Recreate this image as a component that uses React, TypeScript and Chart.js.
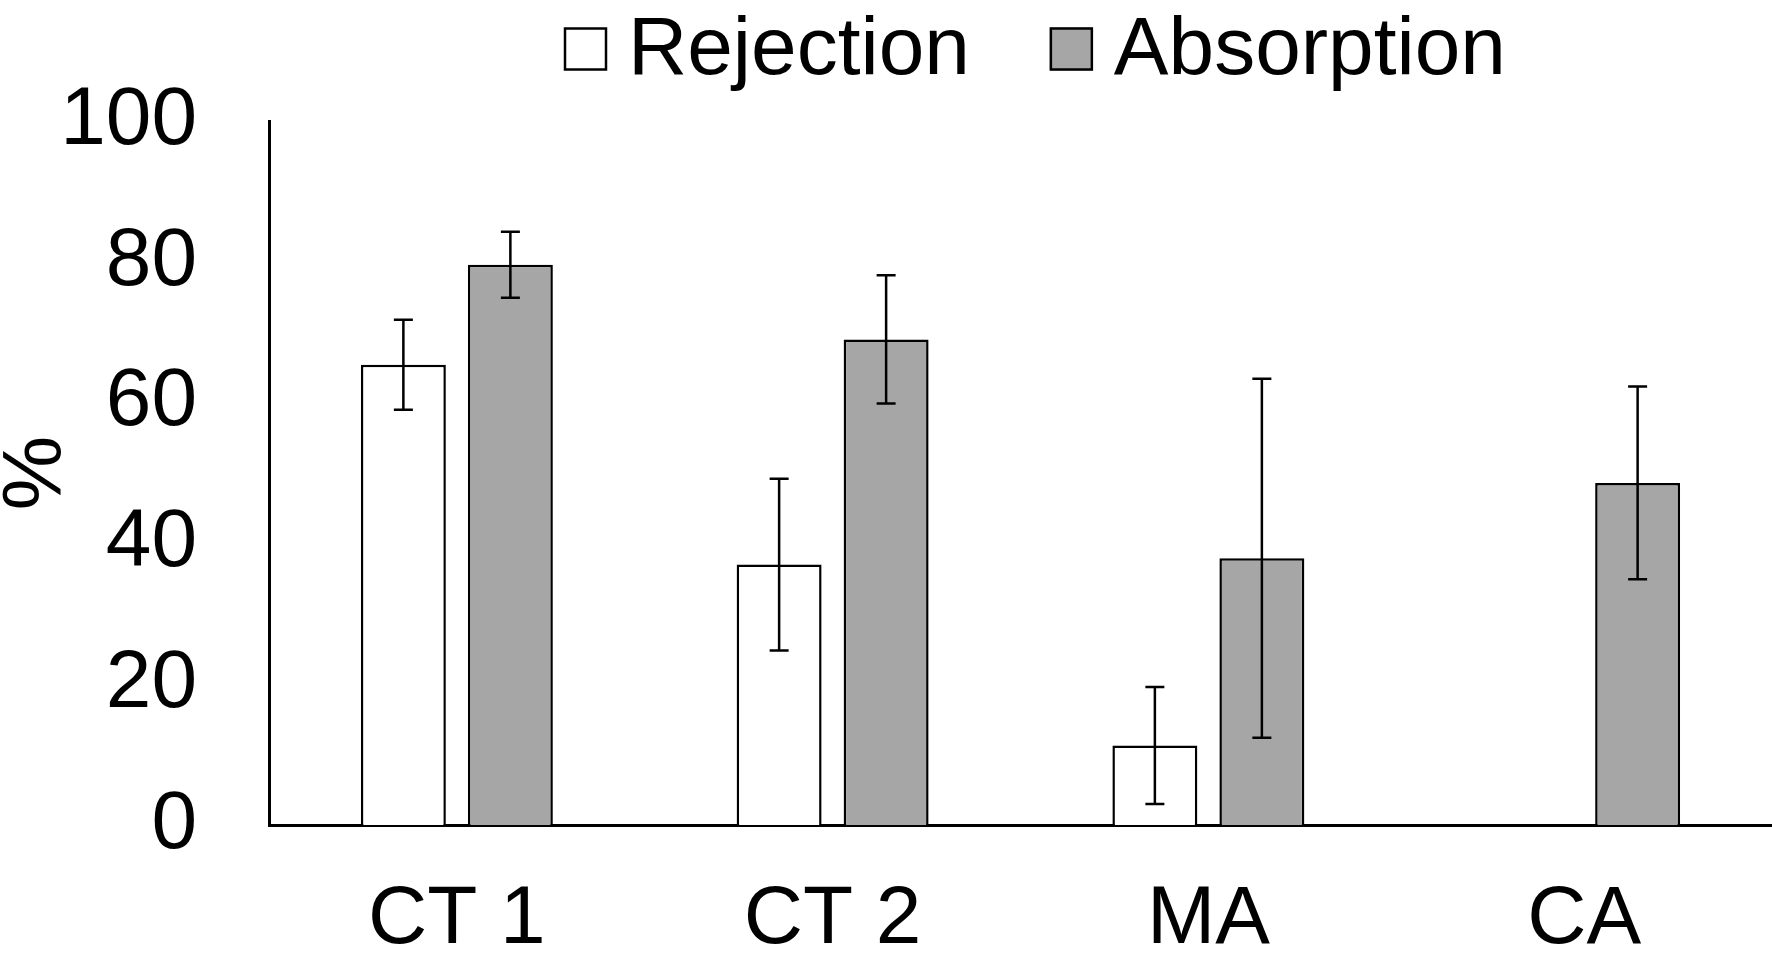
import React, { useEffect, useRef } from 'react';
import { Chart, registerables } from 'chart.js';

Chart.register(...registerables);

const categories = ['CT 1', 'CT 2', 'MA', 'CA'];
const seriesNames = ['Rejection', 'Absorption'];
const rejection: (number | null)[] = [65.4, 37.0, 11.3, null];
const rejectionErr: (number | null)[] = [6.4, 12.2, 8.3, null];
const absorption: (number | null)[] = [79.6, 69.0, 37.9, 48.6];
const absorptionErr: (number | null)[] = [4.7, 9.1, 25.5, 13.7];
const yTicks = [0, 20, 40, 60, 80, 100];
const yTitle = '%';

const FONT = "'Liberation Sans', Arial, sans-serif";
const FS = 82;

const errorBarPlugin = {
  id: 'errorBars',
  afterDatasetsDraw(chart: any) {
    const ctx = chart.ctx;
    const y = chart.scales.y;
    chart.data.datasets.forEach((ds: any, di: number) => {
      const meta = chart.getDatasetMeta(di);
      meta.data.forEach((bar: any, i: number) => {
        const v = ds.data[i];
        const e = ds.errors ? ds.errors[i] : null;
        if (v == null || e == null) return;
        const top = y.getPixelForValue(v + e);
        const bot = y.getPixelForValue(v - e);
        const x = bar.x;
        ctx.save();
        ctx.strokeStyle = '#000';
        ctx.lineWidth = 2.5;
        ctx.beginPath();
        ctx.moveTo(x, top);
        ctx.lineTo(x, bot);
        ctx.moveTo(x - 9.5, top);
        ctx.lineTo(x + 9.5, top);
        ctx.moveTo(x - 9.5, bot);
        ctx.lineTo(x + 9.5, bot);
        ctx.stroke();
        ctx.restore();
      });
    });
  },
};

const legendPlugin = {
  id: 'customLegend',
  afterDraw(chart: any) {
    const ctx = chart.ctx;
    const box = 43;
    const cy = 49;
    let x = 564;
    ctx.save();
    ctx.font = `${FS}px ${FONT}`;
    ctx.textBaseline = 'middle';
    ctx.textAlign = 'left';
    chart.data.datasets.forEach((ds: any) => {
      ctx.fillStyle = ds.backgroundColor;
      ctx.fillRect(x, cy - box / 2, box, box);
      ctx.strokeStyle = '#000';
      ctx.lineWidth = 2.5;
      ctx.strokeRect(x + 1, cy - box / 2 + 1, box - 2, box - 2);
      x += box + 21;
      ctx.fillStyle = '#000';
      ctx.fillText(ds.label, x, cy + 2);
      x += ctx.measureText(ds.label).width + 80;
    });
    ctx.restore();
  },
};

export default function App() {
  const ref = useRef<HTMLCanvasElement | null>(null);

  useEffect(() => {
    document.body.style.margin = '0';
    if (!ref.current) return;
    Chart.defaults.font.family = FONT;
    const chart = new Chart(ref.current, {
      type: 'bar',
      data: {
        labels: categories,
        datasets: [
          {
            label: seriesNames[0],
            data: rejection,
            errors: rejectionErr,
            backgroundColor: '#FFFFFF',
            borderColor: '#000000',
            borderWidth: 2.5,
            barPercentage: 0.794,
            categoryPercentage: 0.5695,
          } as any,
          {
            label: seriesNames[1],
            data: absorption,
            errors: absorptionErr,
            backgroundColor: '#A6A6A6',
            borderColor: '#000000',
            borderWidth: 2.5,
            barPercentage: 0.794,
            categoryPercentage: 0.5695,
          } as any,
        ],
      },
      options: {
        animation: false,
        responsive: true,
        maintainAspectRatio: false,
        layout: { padding: { top: 120, left: 0, right: 0, bottom: 0 } },
        plugins: {
          legend: { display: false },
          tooltip: { enabled: false },
        },
        scales: {
          x: {
            grid: { display: false, drawTicks: false },
            border: { display: true, color: '#000', width: 3 },
            ticks: {
              color: '#000',
              font: { size: FS, family: FONT },
              padding: 46,
              maxRotation: 0,
              autoSkip: false,
            },
            afterFit: (s: any) => {
              s.height = 142;
            },
          },
          y: {
            min: 0,
            max: 100,
            grid: { display: false, drawTicks: false },
            border: { display: true, color: '#000', width: 3 },
            ticks: {
              color: '#000',
              font: { size: FS, family: FONT },
              padding: 72,
            },
            afterBuildTicks: (s: any) => {
              s.ticks = yTicks.map((v) => ({ value: v }));
            },
            title: {
              display: true,
              text: yTitle,
              color: '#000',
              font: { size: 84, family: FONT, lineHeight: 0.9 },
              padding: { top: 0, bottom: 0 },
            },
            afterFit: (s: any) => {
              s.width = 269;
            },
          },
        },
      },
      plugins: [errorBarPlugin, legendPlugin],
    });
    return () => chart.destroy();
  }, []);

  return (
    <div style={{ width: 1772, height: 967, position: 'relative', background: '#fff' }}>
      <canvas ref={ref} />
    </div>
  );
}
